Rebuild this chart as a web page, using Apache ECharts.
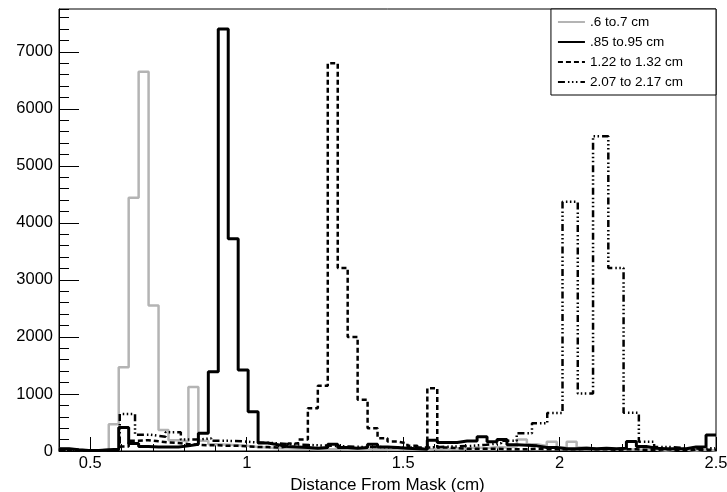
<!DOCTYPE html>
<html>
<head>
<meta charset="utf-8">
<script src="https://cdn.jsdelivr.net/npm/echarts@6/dist/echarts.min.js"></script>
<style>
  html, body { margin: 0; padding: 0; background: #fff; }
  #chart { width: 727px; height: 492px; }
</style>
</head>
<body>
<div id="chart"></div>
<script>
// histogram binning
const binStart = 0.4
const binWidth = 2.1 / 66
const ddStart = 0.399
const ddWidth = 0.0488

const legendNames = ['.6 to.7 cm', '.85 to.95 cm', '1.22 to 1.32 cm', '2.07 to 2.17 cm']
const xMajorTicks = [0.5, 1, 1.5, 2, 2.5]

// counts per bin
const grayCounts = [40, 20, 10, 10, 20, 470, 1470, 4440, 6650, 2550,
  370, 190, 170, 1120, 180, 120, 110, 100, 90, 70,
  60, 50, 50, 40, 40, 30, 30, 30, 25, 30,
  20, 30, 25, 20, 30, 25, 20, 40, 30, 50,
  40, 60, 50, 70, 60, 80, 200, 120, 90, 160,
  60, 160, 60, 40, 30, 30, 20, 30, 20, 20,
  10, 20, 20, 10, 20, 10]
const blackCounts = [40, 20, 10, 10, 20, 30, 410, 130, 80, 70,
  70, 70, 90, 120, 310, 1390, 7400, 3720, 1420, 690,
  140, 110, 80, 70, 60, 50, 60, 120, 60, 50,
  60, 120, 70, 60, 50, 40, 30, 190, 150, 150,
  175, 175, 250, 160, 200, 110, 100, 90, 60, 60,
  40, 40, 50, 40, 50, 40, 50, 165, 80, 50,
  40, 40, 40, 70, 75, 280]
const dashedCounts = [20, 10, 10, 10, 10, 20, 80, 180, 190, 170,
  150, 140, 120, 110, 100, 100, 90, 90, 80, 70,
  70, 60, 80, 130, 200, 750, 1145, 6800, 3210, 2000,
  900, 400, 225, 165, 130, 90, 40, 1100, 60, 50,
  40, 40, 40, 40, 30, 30, 30, 40, 30, 30,
  30, 30, 40, 30, 30, 20, 30, 30, 20, 20,
  30, 20, 20, 20, 20, 20]
const dashDotCounts = [20, 10, 10, 20, 650, 285, 250, 330, 200, 220,
  180, 170, 150, 140, 120, 110, 100, 90, 80, 70,
  70, 60, 60, 60, 70, 80, 90, 110, 140, 180,
  310, 485, 665, 4370, 1010, 5520, 3210, 670, 160, 70,
  50, 40, 50]

// outline points of a histogram: one point per low edge, plus the last high edge
function histPoints(start, width, counts) {
  const pts = counts.map((c, i) => [start + i * width, c])
  pts.push([start + counts.length * width, counts[counts.length - 1]])
  return pts
}

const font = 'Liberation Sans, Arial, Helvetica, sans-serif'

const chart = echarts.init(document.getElementById('chart'))

function lineSeries(name, pts, color, width, type) {
  return {
    name: name,
    type: 'line',
    step: 'end',
    symbol: 'none',
    animation: false,
    data: pts,
    lineStyle: { color: color, width: width, type: type },
    itemStyle: { color: color }
  }
}

const option = {
  backgroundColor: '#fff',
  textStyle: { fontFamily: font },
  grid: {
    left: 59,
    right: 11,
    top: 9,
    bottom: 41,
    show: true,
    borderColor: '#000',
    borderWidth: 1,
    outerBoundsMode: 'none'
  },
  legend: {
    orient: 'vertical',
    right: 11,
    top: 9,
    align: 'left',
    backgroundColor: '#fff',
    borderColor: '#000',
    borderWidth: 1,
    borderRadius: 0,
    padding: [6, 33, 6, 6],
    itemWidth: 27,
    itemHeight: 12,
    itemGap: 6,
    // hide the marker, keep only the line sample
    itemStyle: { opacity: 0 },
    textStyle: { fontSize: 13.5, color: '#000', fontFamily: font },
    data: legendNames
  },
  xAxis: [
    {
      // minor ticks every 0.1
      type: 'value',
      min: 0.4,
      max: 2.5,
      interval: 0.1,
      axisLine: { show: false, onZero: false },
      axisTick: { show: true, inside: true, length: 7, lineStyle: { color: '#000', width: 1 } },
      axisLabel: { show: false },
      splitLine: { show: false }
    },
    {
      type: 'value',
      min: 0.4,
      max: 2.5,
      position: 'bottom',
      axisLine: { show: true, onZero: false, lineStyle: { color: '#000', width: 1 } },
      axisTick: { show: true, inside: true, length: 14, customValues: xMajorTicks, lineStyle: { color: '#000', width: 1 } },
      axisLabel: {
        customValues: xMajorTicks,
        color: '#000',
        fontSize: 16.5,
        margin: 4,
        fontFamily: font
      },
      splitLine: { show: false },
      name: 'Distance From Mask (cm)',
      nameLocation: 'middle',
      nameGap: 19,
      nameTextStyle: { color: '#000', fontSize: 17, fontFamily: font }
    }
  ],
  yAxis: [
    {
      // minor ticks every 200
      type: 'value',
      min: 0,
      max: 7750,
      interval: 200,
      axisLine: { show: false, onZero: false },
      axisTick: { show: true, inside: true, length: 10, lineStyle: { color: '#000', width: 1 } },
      axisLabel: { show: false },
      splitLine: { show: false }
    },
    {
      type: 'value',
      position: 'left',
      min: 0,
      max: 7750,
      interval: 1000,
      axisLine: { show: true, onZero: false, lineStyle: { color: '#000', width: 1 } },
      axisTick: { show: true, inside: true, length: 20, lineStyle: { color: '#000', width: 1 } },
      axisLabel: {
        color: '#000',
        fontSize: 16.5,
        margin: 6,
        showMaxLabel: false,
        fontFamily: font,
        formatter: v => String(v)
      },
      splitLine: { show: false }
    }
  ],
  series: [
    lineSeries(legendNames[0], histPoints(binStart, binWidth, grayCounts), '#b4b4b4', 2.5, 'solid'),
    lineSeries(legendNames[1], histPoints(binStart, binWidth, blackCounts), '#000', 3, 'solid'),
    lineSeries(legendNames[2], histPoints(binStart, binWidth, dashedCounts), '#000', 2.5, [5, 3]),
    lineSeries(legendNames[3], histPoints(ddStart, ddWidth, dashDotCounts), '#000', 2.5, [7, 3, 1.5, 2.5, 1.5, 2.5, 1.5, 3])
  ]
}

chart.setOption(option)
</script>
</body>
</html>
